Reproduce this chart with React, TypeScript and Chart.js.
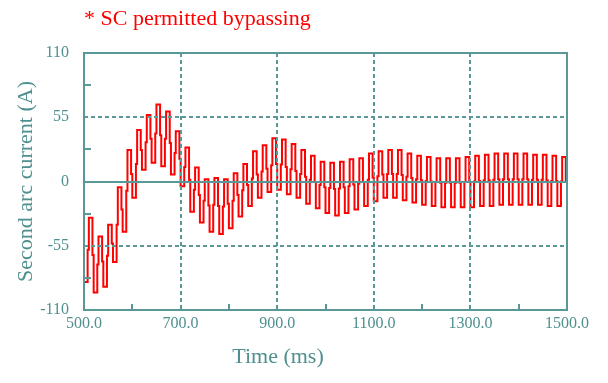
import React, { useEffect, useRef } from "react";
import { Chart, registerables } from "chart.js";

Chart.register(...registerables);

const TITLE = "* SC permitted bypassing";
const X_TITLE = "Time (ms)";
const Y_TITLE = "Second arc current (A)";

const X_MIN = 500;
const X_MAX = 1500;
const X_TICKS = [500, 700, 900, 1100, 1300, 1500];
const X_MINOR = [600, 800, 1000, 1200, 1400];
const X_GRID = [700, 900, 1100, 1300];
const Y_MIN = -110;
const Y_MAX = 110;
const Y_TICKS = [-110, -55, 0, 55, 110];
const Y_MINOR = [-82.5, -27.5, 27.5, 82.5];
const Y_GRID_DASHED = [-55, 55];

// one 20 ms cycle per entry (50 Hz), starting at 500 ms
const CYCLE_MS = 20;
// plateau value of the positive half of each cycle
const HIGHS = [
  -31, -47, -37, -5, 27, 44, 57, 66, 60, 43,
  29, 12, 2, 3, 2, 7, 15, 26, 31, 37,
  36, 32, 27, 22, 17, 16, 17, 19, 20, 24,
  26, 27, 27, 24, 22, 21, 20, 20, 20, 21,
  22, 23, 24, 24, 24, 24, 23, 23, 22, 21,
];
// plateau value of the negative half of each cycle
const LOWS = [
  -86, -95, -90, -69, -43, -14, 10, 16, 13, 6,
  -4, -26, -35, -43, -45, -40, -30, -21, -14, -9,
  -7, -11, -14, -19, -23, -27, -29, -27, -24, -21,
  -17, -14, -14, -16, -18, -20, -21, -22, -22, -22,
  -22, -21, -21, -20, -20, -20, -20, -20, -21, -21,
];

const TEAL_LINE = "#5a9898";
const TEAL_TEXT = "#4f8f8f";
const RED = "#ff0000";
const FONT = "'Liberation Serif', 'Times New Roman', serif";

function buildPoints() {
  const pts: { x: number; y: number }[] = [];
  for (let k = 0; k < HIGHS.length; k++) {
    const t0 = X_MIN + k * CYCLE_MS;
    const lo = LOWS[k];
    const hi = HIGHS[k];
    const nextLo = k + 1 < LOWS.length ? LOWS[k + 1] : lo;
    pts.push({ x: t0, y: lo });
    pts.push({ x: t0 + (3 * CYCLE_MS) / 8, y: (lo + hi) / 2 });
    pts.push({ x: t0 + CYCLE_MS / 2, y: hi });
    pts.push({ x: t0 + (7 * CYCLE_MS) / 8, y: (hi + nextLo) / 2 });
  }
  pts.push({ x: X_MAX, y: pts[pts.length - 1].y });
  return pts;
}

const decorPlugin = {
  id: "decor",
  afterDatasetsDraw(chart: any) {
    const { ctx, chartArea } = chart;
    const xs = chart.scales.x;
    const ys = chart.scales.y;
    const { left, right, top, bottom } = chartArea;
    ctx.save();
    ctx.strokeStyle = TEAL_LINE;
    ctx.lineWidth = 2;
    ctx.setLineDash([4, 3]);
    for (const v of X_GRID) {
      const px = Math.round(xs.getPixelForValue(v));
      ctx.beginPath();
      ctx.moveTo(px, top);
      ctx.lineTo(px, bottom);
      ctx.stroke();
    }
    for (const v of Y_GRID_DASHED) {
      const py = Math.round(ys.getPixelForValue(v));
      ctx.beginPath();
      ctx.moveTo(left, py);
      ctx.lineTo(right, py);
      ctx.stroke();
    }
    ctx.setLineDash([]);
    const p0 = Math.round(ys.getPixelForValue(0));
    ctx.beginPath();
    ctx.moveTo(left, p0);
    ctx.lineTo(right, p0);
    ctx.stroke();
    for (const v of X_MINOR) {
      const px = Math.round(xs.getPixelForValue(v));
      ctx.beginPath();
      ctx.moveTo(px, bottom);
      ctx.lineTo(px, bottom - 6);
      ctx.stroke();
    }
    for (const v of Y_MINOR) {
      const py = Math.round(ys.getPixelForValue(v));
      ctx.beginPath();
      ctx.moveTo(left, py);
      ctx.lineTo(left + 7, py);
      ctx.stroke();
    }
    ctx.strokeRect(left, top, right - left, bottom - top);

    ctx.fillStyle = RED;
    ctx.font = `22px ${FONT}`;
    ctx.textAlign = "left";
    ctx.textBaseline = "alphabetic";
    ctx.fillText(TITLE, 84, 25);

    ctx.fillStyle = TEAL_TEXT;
    ctx.font = `22px ${FONT}`;
    ctx.textAlign = "center";
    ctx.textBaseline = "middle";
    ctx.fillText(X_TITLE, 278, 357);

    ctx.save();
    ctx.translate(26, (top + bottom) / 2);
    ctx.rotate(-Math.PI / 2);
    ctx.fillText(Y_TITLE, 0, 0);
    ctx.restore();
    ctx.restore();
  },
};

export default function App() {
  const ref = useRef<HTMLCanvasElement | null>(null);
  useEffect(() => {
    if (!ref.current) return;
    const chart = new Chart(ref.current, {
      type: "line",
      data: {
        datasets: [
          {
            data: buildPoints(),
            borderColor: RED,
            borderWidth: 2,
            pointRadius: 0,
            stepped: "before",
            fill: false,
          },
        ],
      },
      options: {
        responsive: false,
        animation: false,
        parsing: false,
        normalized: true,
        layout: { padding: { top: 53, right: 41, left: 0, bottom: 0 } },
        plugins: {
          legend: { display: false },
          tooltip: { enabled: false },
          title: { display: false },
        },
        scales: {
          x: {
            type: "linear",
            min: X_MIN,
            max: X_MAX,
            afterBuildTicks: (s: any) => {
              s.ticks = X_TICKS.map((v) => ({ value: v }));
            },
            afterFit: (s: any) => {
              s.height = 73;
            },
            grid: { display: false, drawTicks: false },
            border: { display: false },
            ticks: {
              autoSkip: false,
              maxRotation: 0,
              padding: 4,
              color: TEAL_TEXT,
              font: { family: FONT, size: 16 },
              callback: (v: any) => Number(v).toFixed(1),
            },
          },
          y: {
            type: "linear",
            min: Y_MIN,
            max: Y_MAX,
            afterBuildTicks: (s: any) => {
              s.ticks = Y_TICKS.map((v) => ({ value: v }));
            },
            afterFit: (s: any) => {
              s.width = 84;
            },
            grid: { display: false, drawTicks: false },
            border: { display: false },
            ticks: {
              autoSkip: false,
              padding: 15,
              color: TEAL_TEXT,
              font: { family: FONT, size: 16 },
              callback: (v: any) => String(v),
            },
          },
        },
      },
      plugins: [decorPlugin],
    } as any);
    return () => chart.destroy();
  }, []);
  return (
    <div style={{ position: "fixed", left: 0, top: 0, width: 608, height: 383, background: "#fff" }}>
      <canvas ref={ref} width={608} height={383} style={{ display: "block" }} />
    </div>
  );
}
